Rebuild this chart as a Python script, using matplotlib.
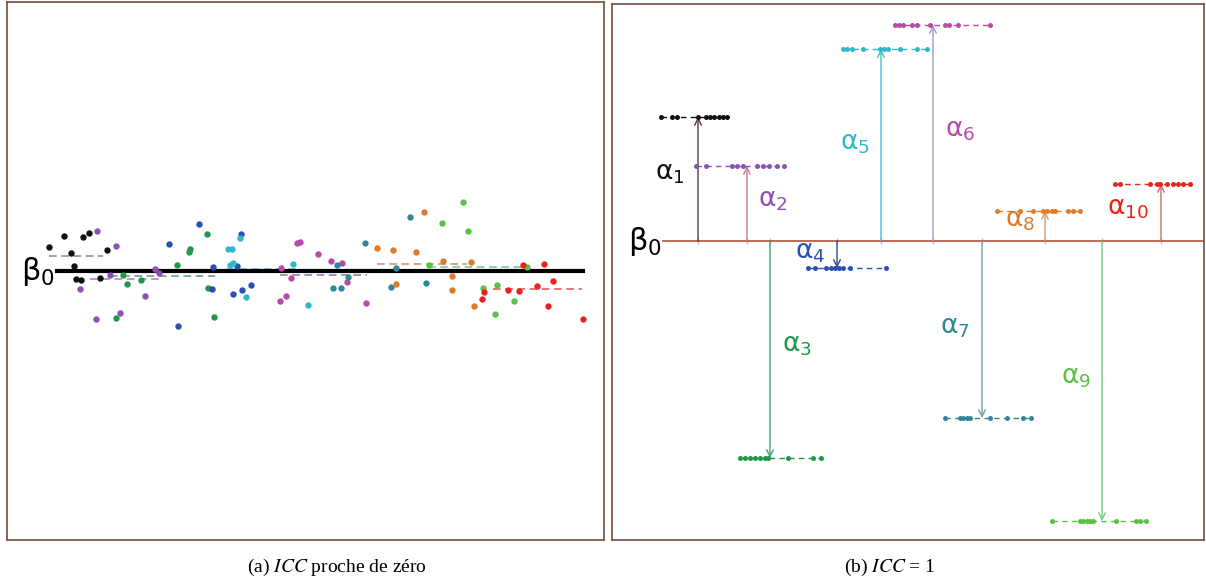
import matplotlib
matplotlib.use("Agg")
import matplotlib.pyplot as plt

plt.rcParams['mathtext.fontset'] = 'dejavusans'

# colours of the ten groups
colors = ['#111111', '#8e4fb5', '#1f9848', '#2a50b0', '#2fb8c8',
          '#b84aa8', '#2f8898', '#e07a2a', '#5cc043', '#e8251c']
arrow_colors = ['#5b3b35', '#c47a9a', '#3fa07a', '#2c4a9a', '#3cc0cf',
                '#a09ac8', '#7a9aaa', '#d0a070', '#6ccf8a', '#c87070']
dash_colors = ['#888888', '#b07ab0', '#5a9a8a', '#5070b0', '#5ab8c8',
               '#9070b0', '#5a90a8', '#c09070', '#70c0a0', '#e05050']

# (a) observations scattered around beta0
a_x = [
    [4.2, 5.7, 7.6, 8.2, 6.4, 10.0, 6.7, 6.9, 7.4, 9.3],
    [9.0, 10.9, 7.3, 8.9, 11.3, 13.8, 14.8, 15.2, 10.3],
    [11.6, 12.0, 13.4, 10.9, 17.0, 18.2, 18.3, 20.0, 20.1, 20.7],
    [19.2, 16.2, 17.1, 20.6, 20.5, 22.6, 23.5, 24.4, 23.4, 23.0],
    [22.1, 22.5, 23.3, 22.3, 23.9, 28.6, 30.1, 22.6],
    [29.0, 27.4, 28.4, 27.3, 27.9, 29.3, 31.1, 32.4, 33.5, 34.0, 35.9],
    [33.0, 34.1, 32.6, 33.4, 35.8, 40.3, 38.9, 38.4, 41.9],
    [41.7, 37.0, 38.6, 40.9, 43.6, 46.4, 44.5, 44.5, 46.7, 38.9],
    [45.6, 43.5, 46.1, 42.2, 47.6, 49.0, 50.7, 48.8, 52.0],
    [51.6, 53.7, 54.6, 53.0, 50.1, 51.2, 47.7, 47.5, 54.1, 57.6],
]
a_y = [
    [2.4, 3.5, 3.4, 3.8, 1.8, 2.1, 0.5, -0.8, -0.9, -0.7],
    [4.0, 2.5, -1.8, -4.8, -4.2, -2.5, 0.2, -0.2, -0.4],
    [-0.4, -1.3, -0.9, -4.7, 0.6, 1.9, 2.2, 3.7, -1.7, -4.6],
    [4.7, 2.7, -5.5, 0.4, -1.8, -2.3, -1.9, -1.4, 3.7, 0.5],
    [2.2, 2.2, 3.3, 0.6, -2.6, 0.7, -3.4, 0.8],
    [2.8, 0.3, -0.7, -3.0, -2.5, 2.9, 1.7, 1.0, 0.8, -1.1, -3.2],
    [0.6, -0.6, -1.7, -1.7, 2.8, 5.4, 0.3, -1.6, -1.2],
    [5.9, 2.3, 2.1, 1.9, 1.0, 0.9, -0.5, -1.9, -3.5, -1.3],
    [6.9, 4.8, 4.0, 0.6, -1.7, -1.4, -3.0, -4.3, 0.4],
    [0.6, 0.7, -1.0, -1.5, -1.9, -2.0, -2.1, -2.8, -3.5, -4.8],
]
# group means and the span they are drawn over
a_mean = [1.5, -0.8, -0.5, -0.05, 0.2, -0.4, 0.1, 0.7, 0.4, -1.8]
a_span = [(4.2, 9.6), (8.3, 15.3), (10.3, 20.8), (16.0, 24.0), (22.0, 29.3),
          (27.3, 36.0), (32.6, 41.3), (37.0, 46.0), (42.1, 52.0), (48.6, 57.5)]
a_beta0 = 0.0
a_beta0_span = (5.0, 57.6)

# (b) every observation equals its group mean
b_level = [12.4, 7.5, -21.7, -2.7, 19.2, 21.6, -17.7, 3.0, -28.0, 5.7]
b_x = [
    [4.9, 6.0, 6.5, 8.6, 9.4, 9.8, 10.2, 10.7, 11.1, 11.5],
    [8.4, 9.4, 12.0, 12.5, 13.1, 14.5, 15.1, 15.7, 16.5, 17.2],
    [12.8, 13.3, 13.8, 14.3, 14.8, 15.3, 15.6, 17.6, 20.1, 20.9],
    [19.6, 20.3, 21.4, 21.9, 22.3, 22.7, 23.1, 23.8, 27.4],
    [23.1, 23.5, 24.0, 25.1, 26.8, 27.2, 27.6, 28.8, 30.5, 31.5],
    [28.3, 28.7, 29.1, 30.0, 30.5, 31.8, 33.3, 33.7, 34.6, 37.8],
    [33.3, 34.8, 35.1, 35.5, 35.8, 37.8, 39.5, 41.1, 41.9],
    [38.5, 40.8, 42.1, 43.1, 43.5, 44.0, 44.3, 45.6, 46.1, 46.8],
    [44.0, 46.8, 47.1, 47.5, 47.8, 48.1, 50.4, 52.4, 52.8, 53.4],
    [50.3, 50.8, 53.8, 54.5, 54.8, 55.5, 56.1, 56.6, 57.1, 57.8],
]
b_arrow_x = [8.6, 13.5, 15.8, 22.5, 26.9, 32.1, 37.0, 43.3, 49.0, 54.9]
b_label_x = [5.8, 16.1, 18.5, 19.8, 24.3, 34.8, 34.3, 40.8, 46.4, 51.6]
b_label_y = [6.8, 4.1, -10.4, -1.1, 9.8, 11.1, -8.6, 2.1, -13.6, 3.3]
b_beta0_start = 5.1

W, H = 1206, 584
fig = plt.figure(figsize=(W / 100, H / 100), dpi=100)
ax_a = fig.add_axes([7 / W, 44 / H, 597 / W, 538 / H])
ax_b = fig.add_axes([612 / W, 44 / H, 592 / W, 536 / H])

frame = '#7a4a3c'
for ax in (ax_a, ax_b):
    ax.set_xticks([])
    ax.set_yticks([])
    for s in ax.spines.values():
        s.set_color(frame)
        s.set_linewidth(1.2)

beta_label = r'$\mathrm{\beta_0}$'

# --- panel (a)
ax_a.set_xlim(0, 59.7)
ax_a.set_ylim(-26.9, 26.9)
for i in range(10):
    ax_a.plot(a_span[i], [a_mean[i]] * 2, ls=(0, (5, 3)), lw=1.1,
              color=dash_colors[i], zorder=2)
ax_a.plot(a_beta0_span, [a_beta0] * 2, color='black', lw=3.0, zorder=3)
for i in range(10):
    ax_a.plot(a_x[i], a_y[i], 'o', ms=4.6, color=colors[i], mec='none', zorder=4)
ax_a.text(a_beta0_span[0] - 0.2, a_beta0, beta_label, fontsize=22,
          ha='right', va='center')

# --- panel (b)
ax_b.set_xlim(0, 59.2)
ax_b.set_ylim(-29.9, 23.7)
ax_b.plot([b_beta0_start, 59.2], [0, 0], color='#b0503a', lw=1.2, zorder=2)
ax_b.plot(b_arrow_x, [0] * 10, '|', ms=4, color='#bbbbbb', zorder=1)
for i in range(10):
    ax_b.annotate('', xy=(b_arrow_x[i], b_level[i]), xytext=(b_arrow_x[i], 0),
                  arrowprops=dict(arrowstyle='->', color=arrow_colors[i], lw=1.0,
                                  shrinkA=0, shrinkB=0, mutation_scale=12),
                  zorder=3)
    ax_b.plot([min(b_x[i]), max(b_x[i])], [b_level[i]] * 2, ls=(0, (4, 3)),
              lw=1.0, color=colors[i], zorder=3)
    ax_b.plot(b_x[i], [b_level[i]] * len(b_x[i]), 'o', ms=3.6, color=colors[i],
              mec='none', zorder=4)
    ax_b.text(b_label_x[i], b_label_y[i], r'$\mathrm{\alpha_{%d}}$' % (i + 1),
              fontsize=19, color=colors[i], ha='center', va='center', zorder=5)
ax_b.text(b_beta0_start - 0.1, 0, beta_label, fontsize=22, ha='right', va='center')

# captions
cap = dict(fontsize=14, family='Liberation Serif', ha='center', va='center')
plt.rcParams['mathtext.fontset'] = 'stix'
fig.text(337 / W, 1 - 567 / H, r'(a) $\mathit{ICC}$ proche de zéro', **cap)
fig.text(890 / W, 1 - 567 / H, r'(b) $\mathit{ICC}$ = 1', **cap)

fig.savefig('out.png', dpi=100, facecolor='white')
